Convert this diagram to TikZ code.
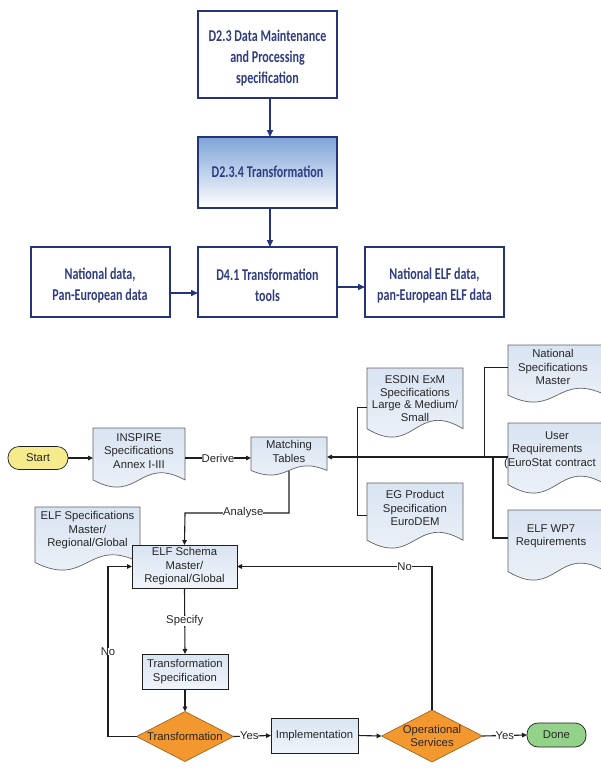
\documentclass[tikz,border=0pt]{standalone}
\usepackage{fontspec}
\setmainfont{Liberation Sans}
\newfontfamily\topfont[FakeStretch=0.73]{Carlito}
\usetikzlibrary{arrows.meta,calc,shapes.geometric}
\definecolor{navy}{HTML}{24337A}
\definecolor{navytext}{HTML}{2F3C82}
\definecolor{topgrad}{HTML}{7EA4D7}
\definecolor{docfill}{HTML}{D9E4F2}
\definecolor{docfill2}{HTML}{F0F4FA}
\definecolor{orangefill}{HTML}{F2982F}
\definecolor{startfill}{HTML}{F5EA8C}
\definecolor{donefill}{HTML}{93D389}
\definecolor{linegray}{HTML}{1E1E1E}
\tikzset{
  topbox/.style={draw=navy, line width=2pt, fill=white, minimum width=139pt, minimum height=70pt, inner sep=0pt, outer sep=0pt},
  toptext/.style={text=navytext, font=\topfont\bfseries\fontsize{16.5}{21}\selectfont, align=center},
  toparrow/.style={draw=navy, line width=1.5pt, -{Triangle[length=7pt,width=6pt]}},
  docbox/.style={inner sep=0pt, outer sep=0pt},
  docline/.style={draw=linegray!70, line width=0.7pt, top color=docfill, bottom color=docfill2},
  btext/.style={text=black!85, font=\fontsize{11.3}{13.5}\selectfont, align=center, inner sep=0pt},
  procbox/.style={draw=linegray, line width=0.7pt, top color=docfill, bottom color=docfill2, inner sep=0pt, outer sep=0pt, btext},
  decision/.style={diamond, draw=orangefill!60!black, line width=0.6pt, fill=orangefill, aspect=1.95, inner sep=0pt, outer sep=0pt, btext},
  terminal/.style={rounded corners=11pt, draw=linegray, line width=0.7pt, inner sep=0pt, outer sep=0pt, btext},
  flow/.style={draw=linegray, line width=1.1pt, -{Triangle[length=5pt,width=4.5pt]}},
  bus/.style={draw=linegray, line width=0.8pt},
  lbl/.style={fill=white, inner sep=0.8pt, btext}
}
\newcommand{\docoutline}[1]{%
  \path[docline] (#1.north west) -- (#1.north east)
    -- ($(#1.south east)!0.12!(#1.north east)$)
    .. controls ($(#1.south)!0.54!(#1.north)$) and ($(#1.south)!-0.30!(#1.north)$)
    .. ($(#1.south west)!0.12!(#1.north west)$) -- cycle;}
\begin{document}
\begin{tikzpicture}[x=1pt,y=-1pt]
\useasboundingbox (0,0) rectangle (601,769);
\clip (0,0) rectangle (601,769);
\fill[white] (0,0) rectangle (601,769);

% ---------- top part ----------
\node[topbox, minimum height=87pt] (d23) at (267.5,54.5) {};
\node[toptext] (d23t) at (267.5,58) {D2.3 Data Maintenance\\and Processing\\specification};
\node[topbox, minimum height=71pt, top color=topgrad, bottom color=white] (d234) at (267.5,172.5) {};
\node[toptext] (d234t) at (267.5,172) {D2.3.4 Transformation};
\node[topbox] (natdata) at (100,282) {};
\node[toptext] (natdatat) at (100,285) {National data,\\Pan-European data};
\node[topbox] (d41) at (267.5,282) {};
\node[toptext] (d41t) at (267.5,285) {D4.1 Transformation\\tools};
\node[topbox] (elfdata) at (434.5,282) {};
\node[toptext] (elfdatat) at (434.5,285) {National ELF data,\\pan-European ELF data};

\draw[toparrow] ([xshift=2.5pt]d23.south) -- ([xshift=2.5pt]d234.north);
\draw[toparrow] ([xshift=2.5pt]d234.south) -- ([xshift=2.5pt]d41.north);
\draw[toparrow] ([yshift=-11pt]natdata.east) -- ([yshift=-11pt]d41.west);
\draw[toparrow] ([yshift=-5pt]d41.east) -- ([yshift=-5pt]elfdata.west);

% ---------- bottom flowchart ----------
\node[terminal, fill=startfill, minimum width=60pt, minimum height=23pt] (start) at (38,458) {Start};

\node[docbox, minimum width=92pt, minimum height=59pt] (inspire) at (139,457.5) {};
\docoutline{inspire}
\node[btext] (inspiret) at (139,451) {INSPIRE\\Specifications\\Annex I-III};

\node[docbox, minimum width=76pt, minimum height=38pt] (matching) at (289,456) {};
\docoutline{matching}
\node[btext] (matchingt) at (289,451.5) {Matching\\Tables};

\node[docbox, minimum width=96pt, minimum height=69pt] (esdin) at (415,402.5) {};
\docoutline{esdin}
\node[btext, font=\fontsize{11.3}{12.5}\selectfont] (esdint) at (415,398.5) {ESDIN ExM\\Specifications\\Large \& Medium/\\Small};

\node[docbox, minimum width=96pt, minimum height=65pt] (eg) at (415,515.5) {};
\docoutline{eg}
\node[btext] (egt) at (415,508) {EG Product\\Specification\\EuroDEM};

\node[docbox, minimum width=98pt, minimum height=57pt] (natspec) at (557,373.5) {};
\docoutline{natspec}
\node[btext] (natspect) at (553,367) {National\\Specifications\\Master};

\node[docbox, minimum width=98pt, minimum height=70pt] (userreq) at (557,458) {};
\docoutline{userreq}
\node[btext, text width=98pt, align=left] (userreqt) at (553,450) {\hspace*{41pt}User\\\hspace*{8pt}Requirements\\(EuroStat contract};

\node[docbox, minimum width=98pt, minimum height=70pt] (elfwp7) at (557,545) {};
\docoutline{elfwp7}
\node[btext] (elfwp7t) at (551,536.5) {ELF WP7\\Requirements};

\node[docbox, minimum width=105pt, minimum height=63pt] (elfspec) at (87.5,538.5) {};
\docoutline{elfspec}
\node[btext] (elfspect) at (87.5,530.5) {ELF Specifications\\Master/\\Regional/Global};

\node[procbox, minimum width=105pt, minimum height=43pt] (schema) at (184.5,566.5) {ELF Schema\\Master/\\Regional/Global};
\node[procbox, minimum width=86pt, minimum height=35pt] (tspec) at (185,671.5) {Transformation\\Specification};
\node[decision, minimum width=97pt, minimum height=50pt] (trans) at (185,736.5) {Transformation};
\node[procbox, minimum width=87pt, minimum height=35pt] (impl) at (314.5,735.5) {Implementation};
\node[decision, minimum width=100pt, minimum height=52pt] (ops) at (432,736) {Operational\\Services};
\node[terminal, fill=donefill, minimum width=59pt, minimum height=24pt] (done) at (556.5,735) {Done};

% junction coordinates
\coordinate (jA) at (357,457);
\coordinate (jB) at (484,457);
\coordinate (jC) at (493,457);
\coordinate (analyseturn) at (185,513);
\coordinate (noleft) at (108,736.5);

% connectors
\draw[flow] (start.east) -- (inspire.west |- start.east);
\draw[flow] (inspire.east |- start.east) -- node[lbl]{Derive} (matching.west |- start.east);
\draw[flow] (userreq.west |- jA) -- (matching.east |- jA);
\draw[bus] ([yshift=-4.5pt]esdin.west) -| (jA);
\draw[bus] (eg.west) -| (jA);
\draw[bus] ([yshift=6.5pt]natspec.west) -| (jB);
\draw[draw=linegray, line width=1.4pt] (jC) |- ([yshift=7pt]elfwp7.west);
\draw[flow] ([yshift=4pt]matching.south) |- node[lbl, pos=0.72]{Analyse} (analyseturn) -- (schema.north);
\draw[flow] (schema.south) -- node[lbl]{Specify} (tspec.north);
\draw[flow] (tspec.south) -- (trans.north);
\draw[flow] (trans.west) -- (noleft) |- node[lbl, pos=0.25]{No} (schema.west);
\draw[flow] (trans.east) -- node[lbl, pos=0.42]{Yes} (impl.west);
\draw[flow] (impl.east) -- (ops.west);
\draw[flow] (ops.north) |- node[lbl, pos=0.57]{No} (schema.east);
\draw[flow] (ops.east) -- node[lbl, pos=0.5]{Yes} (done.west);
\end{tikzpicture}
\end{document}
